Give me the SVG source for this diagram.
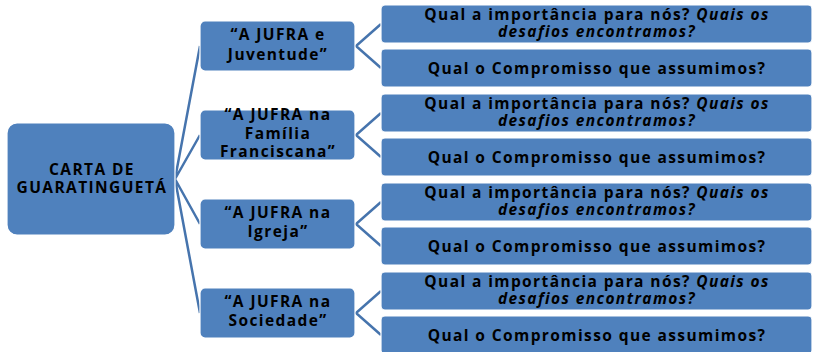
<svg xmlns="http://www.w3.org/2000/svg" width="813" height="352" viewBox="0 0 813 352">
<style>
.box{fill:#4f81bd;stroke:#ffffff;stroke-width:1.2}
.t{font-family:"Open Sans","Liberation Sans",sans-serif;font-weight:bold;font-size:15.5px;letter-spacing:1.4px;fill:#000;text-anchor:middle}
.i{font-style:italic}
.c{fill:none;stroke:#4674ad;stroke-width:2.5}
</style>
<rect width="813" height="352" fill="#ffffff"/>
<g id="connectors">
<path class="c" d="M175,179 L200,46 M175,179 L200,135 M175,179 L200,224 M175,179 L200,313"/>
<path class="c" d="M381,24 L356,46 L381,68"/>
<path class="c" d="M381,113 L356,135 L381,157"/>
<path class="c" d="M381,202 L356,224 L381,246"/>
<path class="c" d="M381,291 L356,313 L381,335"/>
</g>
<g id="root">
<rect class="box" x="7" y="123" width="168" height="112" rx="10"/>
<text class="t" x="92" y="175">CARTA DE</text>
<text class="t" x="92" y="193">GUARATINGUETÁ</text>
</g>
<g id="n1">
<rect class="box" x="200" y="21" width="155" height="50" rx="5"/>
<text class="t" x="278" y="40">“A JUFRA e</text>
<text class="t" x="278" y="60">Juventude”</text>
</g>
<g id="n2">
<rect class="box" x="200" y="110" width="155" height="50" rx="5"/>
<text class="t" x="278" y="120">“A JUFRA na</text>
<text class="t" x="278" y="138.5">Família</text>
<text class="t" x="278" y="157">Franciscana”</text>
</g>
<g id="n3">
<rect class="box" x="200" y="199" width="155" height="50" rx="5"/>
<text class="t" x="278" y="218">“A JUFRA na</text>
<text class="t" x="278" y="237">Igreja”</text>
</g>
<g id="n4">
<rect class="box" x="200" y="288" width="155" height="50" rx="5"/>
<text class="t" x="278" y="307">“A JUFRA na</text>
<text class="t" x="278" y="326">Sociedade”</text>
</g>
<g id="q1">
<rect class="box" x="381" y="5" width="431" height="38" rx="4"/>
<text class="t" x="597" y="20">Qual a importância para nós? <tspan class="i">Quais os</tspan></text>
<text class="t i" x="597" y="36.5">desafios encontramos?</text>
</g>
<g id="c1">
<rect class="box" x="381" y="49" width="431" height="38" rx="4"/>
<text class="t" x="597" y="74">Qual o Compromisso que assumimos?</text>
</g>
<g id="q2">
<rect class="box" x="381" y="94" width="431" height="38" rx="4"/>
<text class="t" x="597" y="109">Qual a importância para nós? <tspan class="i">Quais os</tspan></text>
<text class="t i" x="597" y="125.5">desafios encontramos?</text>
</g>
<g id="c2">
<rect class="box" x="381" y="138" width="431" height="38" rx="4"/>
<text class="t" x="597" y="163">Qual o Compromisso que assumimos?</text>
</g>
<g id="q3">
<rect class="box" x="381" y="183" width="431" height="38" rx="4"/>
<text class="t" x="597" y="198">Qual a importância para nós? <tspan class="i">Quais os</tspan></text>
<text class="t i" x="597" y="214.5">desafios encontramos?</text>
</g>
<g id="c3">
<rect class="box" x="381" y="227" width="431" height="38" rx="4"/>
<text class="t" x="597" y="252">Qual o Compromisso que assumimos?</text>
</g>
<g id="q4">
<rect class="box" x="381" y="272" width="431" height="38" rx="4"/>
<text class="t" x="597" y="287">Qual a importância para nós? <tspan class="i">Quais os</tspan></text>
<text class="t i" x="597" y="303.5">desafios encontramos?</text>
</g>
<g id="c4">
<rect class="box" x="381" y="316" width="431" height="38" rx="4"/>
<text class="t" x="597" y="341">Qual o Compromisso que assumimos?</text>
</g>
</svg>
